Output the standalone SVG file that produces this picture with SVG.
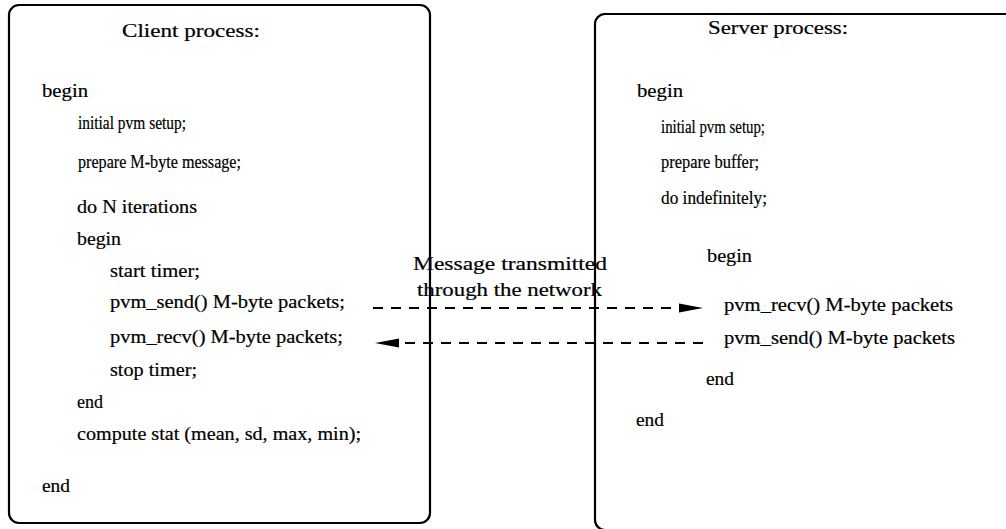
<svg xmlns="http://www.w3.org/2000/svg" width="1006" height="529" viewBox="0 0 1006 529">
  <defs>
    <style>
      .box { fill: none; stroke: #000; stroke-width: 2.2; }
      .t { font-family: "Liberation Serif", "Times New Roman", serif; font-size: 18px; fill: #000; stroke: #000; stroke-width: 0.2; }
      .link { stroke: #000; stroke-width: 2; stroke-dasharray: 10 8; fill: none; }
      .head { fill: #000; stroke: none; }
    </style>
  </defs>
  <rect width="1006" height="529" fill="#fff"/>

  <!-- client process -->
  <g id="client">
    <rect class="box" x="9" y="5" width="421" height="518" rx="10"/>
    <text class="t" x="122" y="37" textLength="138" lengthAdjust="spacingAndGlyphs">Client process:</text>
    <text class="t" x="42" y="97" textLength="46" lengthAdjust="spacingAndGlyphs">begin</text>
    <text class="t" x="78" y="129" textLength="108" lengthAdjust="spacingAndGlyphs">initial pvm setup;</text>
    <text class="t" x="78" y="168" textLength="163" lengthAdjust="spacingAndGlyphs">prepare M-byte message;</text>
    <text class="t" x="77" y="213" textLength="120" lengthAdjust="spacingAndGlyphs">do N iterations</text>
    <text class="t" x="77" y="245" textLength="44" lengthAdjust="spacingAndGlyphs">begin</text>
    <text class="t" x="110" y="277" textLength="90" lengthAdjust="spacingAndGlyphs">start timer;</text>
    <text class="t" x="110" y="308" textLength="235" lengthAdjust="spacingAndGlyphs">pvm_send() M-byte packets;</text>
    <text class="t" x="110" y="343" textLength="233" lengthAdjust="spacingAndGlyphs">pvm_recv() M-byte packets;</text>
    <text class="t" x="110" y="376" textLength="87" lengthAdjust="spacingAndGlyphs">stop timer;</text>
    <text class="t" x="77" y="408" textLength="26" lengthAdjust="spacingAndGlyphs">end</text>
    <text class="t" x="77" y="440" textLength="284" lengthAdjust="spacingAndGlyphs">compute stat (mean, sd, max, min);</text>
    <text class="t" x="42" y="492" textLength="28" lengthAdjust="spacingAndGlyphs">end</text>
  </g>

  <!-- server process -->
  <g id="server">
    <rect class="box" x="595" y="14" width="500" height="516" rx="10"/>
    <text class="t" x="708" y="34" textLength="140" lengthAdjust="spacingAndGlyphs">Server process:</text>
    <text class="t" x="637" y="97" textLength="46" lengthAdjust="spacingAndGlyphs">begin</text>
    <text class="t" x="661" y="133" textLength="104" lengthAdjust="spacingAndGlyphs">initial pvm setup;</text>
    <text class="t" x="661" y="168" textLength="98" lengthAdjust="spacingAndGlyphs">prepare buffer;</text>
    <text class="t" x="661" y="204" textLength="106" lengthAdjust="spacingAndGlyphs">do indefinitely;</text>
    <text class="t" x="707" y="262" textLength="45" lengthAdjust="spacingAndGlyphs">begin</text>
    <text class="t" x="724" y="311" textLength="229" lengthAdjust="spacingAndGlyphs">pvm_recv() M-byte packets</text>
    <text class="t" x="724" y="344" textLength="231" lengthAdjust="spacingAndGlyphs">pvm_send() M-byte packets</text>
    <text class="t" x="706" y="385" textLength="28" lengthAdjust="spacingAndGlyphs">end</text>
    <text class="t" x="636" y="426" textLength="28" lengthAdjust="spacingAndGlyphs">end</text>
  </g>

  <!-- network label -->
  <g id="network">
    <text class="t" x="413" y="270" textLength="194" lengthAdjust="spacingAndGlyphs">Message transmitted</text>
    <text class="t" x="417" y="296" textLength="185" lengthAdjust="spacingAndGlyphs">through the network</text>
  </g>

  <!-- message exchange -->
  <g id="connectors">
    <line class="link" x1="373" y1="308" x2="684" y2="308"/>
    <polygon class="head" points="703,308 679,303.5 679,312.5"/>
    <line class="link" x1="703" y1="343" x2="396" y2="343"/>
    <polygon class="head" points="375,343 399,338.5 399,347.5"/>
  </g>
</svg>
